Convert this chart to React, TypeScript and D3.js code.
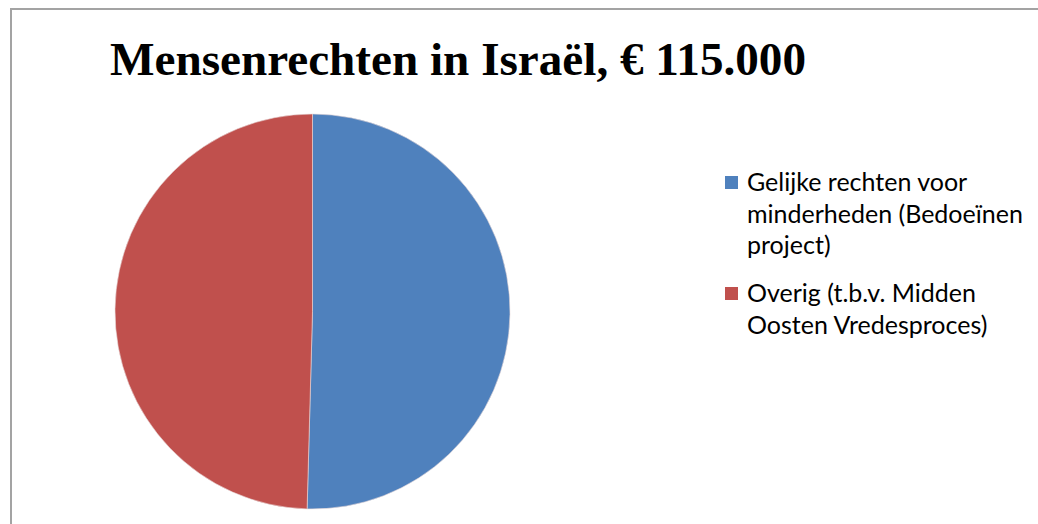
import React from "react";
import * as d3 from "d3";

const title = "Mensenrechten in Israël, € 115.000";
const categories = ["Gelijke rechten voor minderheden (Bedoeïnen project)", "Overig (t.b.v. Midden Oosten Vredesproces)"];
const legendLines = [["Gelijke rechten voor", "minderheden (Bedoeïnen", "project)"], ["Overig (t.b.v. Midden", "Oosten Vredesproces)"]];
const values = [58000, 57000];
const colors = ["#4F81BD", "#C0504D"];

export default function App() {
  const W = 1038, H = 524;
  const cx = 312.5, cy = 311.5, r = 197.5;
  const pie = d3.pie<number>().sort(null).value((d) => d);
  const arcs = pie(values);
  const arcGen = d3.arc<d3.PieArcDatum<number>>().innerRadius(0).outerRadius(r);
  const legendY = [176, 287];
  return (
    <svg width={W} height={H} style={{ position: "absolute", left: 0, top: 0, display: "block", background: "#fff" }}>
      <rect x={11} y={9} width={1100} height={600} fill="#fff" stroke="#a3a3a3" strokeWidth={2} />
      <text x={110} y={75} fontFamily="'Liberation Serif', 'DejaVu Serif', serif" fontWeight="bold" fontSize={46} textLength={696} lengthAdjust="spacingAndGlyphs" fill="#000">{title}</text>
      <g transform={`translate(${cx},${cy})`}>
        {arcs.map((a, i) => (
          <path key={categories[i]} d={arcGen(a) || ""} fill={colors[i]} stroke="#e8d8d8" strokeWidth={0.6} />
        ))}
      </g>
      {legendLines.map((lines, i) => (
        <g key={i}>
          <rect x={725} y={legendY[i]} width={13} height={13} fill={colors[i]} />
          {lines.map((l, j) => (
            <text key={j} x={747} y={legendY[i] + 15 + j * 31.5} fontFamily="Lato, 'Open Sans', sans-serif" fontSize={25} fill="#000">{l}</text>
          ))}
        </g>
      ))}
    </svg>
  );
}
